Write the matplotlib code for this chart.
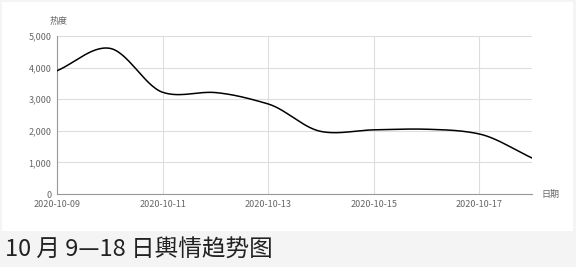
import matplotlib
matplotlib.use("Agg")

import matplotlib.pyplot as plt
from matplotlib.patches import Rectangle
import numpy as np

plt.rcParams['font.family'] = ['Noto Sans CJK SC', 'DejaVu Sans']

# daily values
dates = ["2020-10-09", "2020-10-10", "2020-10-11", "2020-10-12", "2020-10-13",
	"2020-10-14", "2020-10-15", "2020-10-16", "2020-10-17", "2020-10-18"]
heat = [3900, 4610, 3220, 3210, 2850, 1980, 2030, 2050, 1900, 1140]
xtick_labels = ["2020-10-09", "2020-10-11", "2020-10-13", "2020-10-15", "2020-10-17"]
yticks = [0, 1000, 2000, 3000, 4000, 5000]
caption = "10 月 9—18 日輿情趋势图"

def smooth(x, y, n=30, k=0.4):
	# cardinal spline through the points, like the smooth line of the web chart
	x = np.asarray(x, dtype=float)
	y = np.asarray(y, dtype=float)
	m = np.zeros_like(y)
	m[1:-1] = 2 * k * (y[2:] - y[:-2]) / (x[2:] - x[:-2])
	m[0] = (y[1] - y[0]) / (x[1] - x[0])
	m[-1] = (y[-1] - y[-2]) / (x[-1] - x[-2])
	xs, ys = [], []
	for i in range(len(x) - 1):
		h = x[i + 1] - x[i]
		t = np.linspace(0, 1, n, endpoint=False)
		h00 = 2 * t**3 - 3 * t**2 + 1
		h10 = t**3 - 2 * t**2 + t
		h01 = -2 * t**3 + 3 * t**2
		h11 = t**3 - t**2
		xs.append(x[i] + t * h)
		ys.append(h00 * y[i] + h10 * h * m[i] + h01 * y[i + 1] + h11 * h * m[i + 1])
	xs.append([x[-1]])
	ys.append([y[-1]])
	return np.concatenate(xs), np.concatenate(ys)

fig = plt.figure(figsize=(5.76, 2.67), dpi=100)
fig.patch.set_facecolor("#f4f4f4")
# white card behind the chart
fig.patches.append(Rectangle((2 / 576, 36 / 267), 571 / 576, 229 / 267,
	transform=fig.transFigure, facecolor="white", edgecolor="none", zorder=-5))

ax = fig.add_axes([57 / 576, 73 / 267, 475 / 576, 158 / 267])
ax.set_facecolor("none")
ax.set_zorder(2)

xpos = np.arange(len(dates))
sx, sy = smooth(xpos, heat)
ax.plot(sx, sy, color="black", linewidth=1.1, zorder=3)

ax.set_xlim(0, len(dates) - 1)
ax.set_ylim(0, 5000)
ax.set_xticks([dates.index(d) for d in xtick_labels])
ax.set_xticklabels(xtick_labels)
ax.set_yticks(yticks)
ax.set_yticklabels(["{:,}".format(v) for v in yticks])
ax.tick_params(axis="both", length=0, labelsize=6.5, labelcolor="#666666")
ax.tick_params(axis="x", pad=4)
ax.tick_params(axis="y", pad=4)

ax.grid(True, color="#dddddd", linewidth=0.8)
ax.set_axisbelow(True)
for s in ["top", "right"]:
	ax.spines[s].set_visible(False)
ax.spines["left"].set_color("#999999")
ax.spines["bottom"].set_color("#999999")
ax.spines["left"].set_linewidth(0.8)
ax.spines["bottom"].set_linewidth(0.8)

# axis names
fig.text(50 / 576, 1 - 21 / 267, "热度", fontsize=6.5, color="#666666", va="center", ha="left")
fig.text(541 / 576, 1 - 194 / 267, "日期", fontsize=6.5, color="#666666", va="center", ha="left")

fig.text(5 / 576, 1 - 250 / 267, caption, fontsize=17, color="#222222", va="center", ha="left")

plt.savefig("out.png", dpi=100, facecolor=fig.get_facecolor())
